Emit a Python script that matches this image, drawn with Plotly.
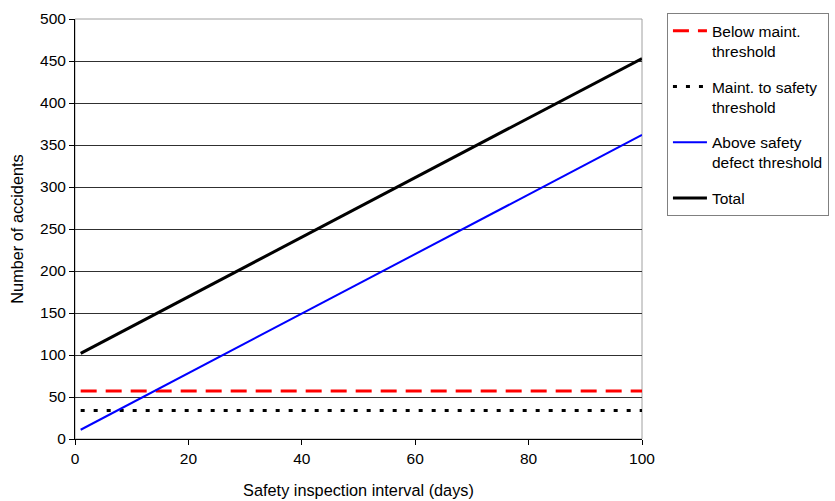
import plotly.graph_objects as go

# Data
interval_days = [1, 100]
below_maint = [57, 57]
maint_to_safety = [34, 34]
above_safety = [11, 362]
total = [102, 453]

series_names = ["Below maint.<br>threshold", "Maint. to safety<br>threshold",
                "Above safety<br>defect threshold", "Total"]

x_ticks = [0, 20, 40, 60, 80, 100]
y_ticks = [0, 50, 100, 150, 200, 250, 300, 350, 400, 450, 500]

FONT = "Liberation Sans, Arial, sans-serif"

fig = go.Figure()
fig.add_trace(go.Scatter(x=interval_days, y=below_maint, mode="lines",
                         name=series_names[0], legendgroup="a",
                         line=dict(color="#ff0000", width=3, dash="16px,9px")))
fig.add_trace(go.Scatter(x=interval_days, y=maint_to_safety, mode="lines",
                         name=series_names[1], legendgroup="b",
                         line=dict(color="#000000", width=3, dash="4px,9px")))
fig.add_trace(go.Scatter(x=interval_days, y=above_safety, mode="lines",
                         name=series_names[2], legendgroup="c",
                         line=dict(color="#0000ff", width=2)))
fig.add_trace(go.Scatter(x=interval_days, y=total, mode="lines",
                         name=series_names[3], legendgroup="d",
                         line=dict(color="#000000", width=3)))

fig.update_layout(
    width=835, height=501,
    margin=dict(l=75, r=193, t=19, b=62, autoexpand=False),
    paper_bgcolor="white", plot_bgcolor="white",
    font=dict(family=FONT, size=15.5, color="black"),
    legend=dict(x=1.044, y=1.014, xanchor="left", yanchor="top",
                bordercolor="#808080", borderwidth=1, bgcolor="white",
                font=dict(family=FONT, size=15.5, color="black"),
                tracegroupgap=12.5, traceorder="grouped", itemwidth=34,
                valign="top"),
    shapes=[dict(type="rect", xref="paper", yref="paper", x0=0, x1=1, y0=0, y1=1,
                 line=dict(color="#a0a0a0", width=1), layer="below")],
)
fig.update_xaxes(range=[0, 100], tickvals=x_ticks, showgrid=False,
                 showline=True, linecolor="black", linewidth=1,
                 ticks="outside", ticklen=5, tickcolor="black",
                 zeroline=False, tickfont=dict(size=15.5), automargin=False,
                 title=dict(text="Safety inspection interval (days)", standoff=18,
                            font=dict(size=16.3)))
fig.update_yaxes(range=[0, 500], tickvals=y_ticks, showgrid=True,
                 gridcolor="#303030", gridwidth=1,
                 showline=True, linecolor="black", linewidth=1,
                 ticks="outside", ticklen=5, tickcolor="black",
                 zeroline=False, tickfont=dict(size=15.5), automargin=False,
                 title=dict(text="Number of accidents", standoff=12,
                            font=dict(size=16.3)))

fig.write_html("out.html")
